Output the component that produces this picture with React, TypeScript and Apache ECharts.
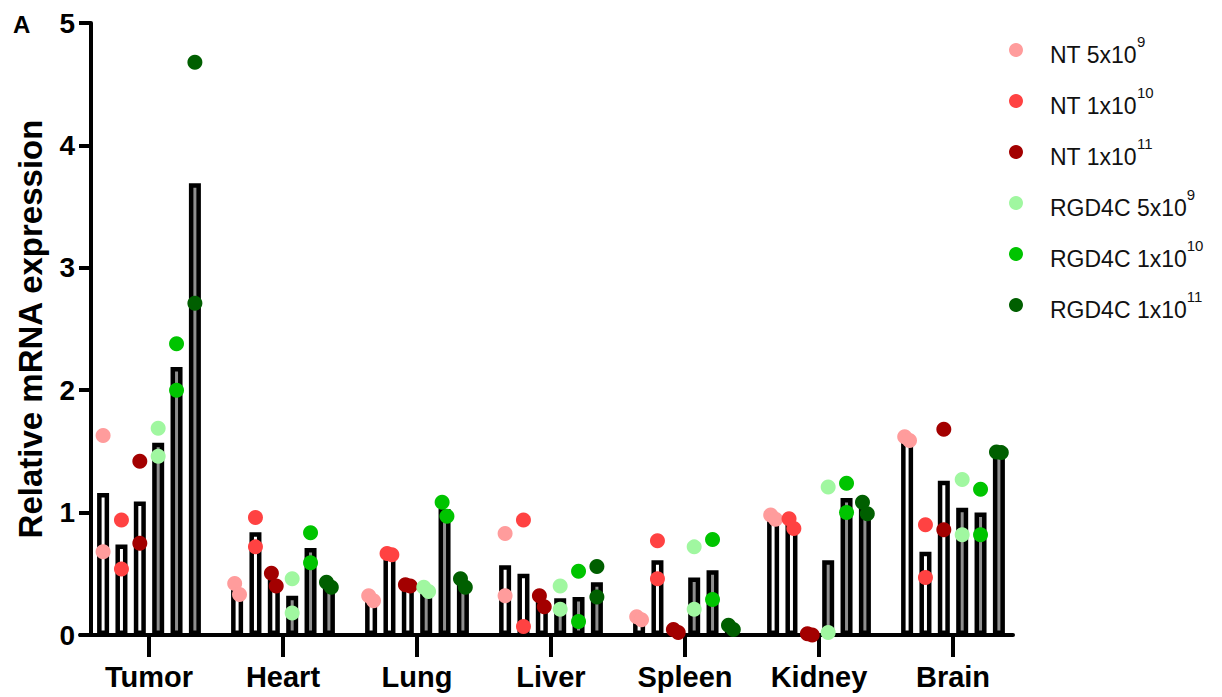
import { useEffect, useRef } from 'react';
import * as echarts from 'echarts';

const FONT = "'Liberation Sans', Arial, Helvetica, sans-serif";

const categories = ['Tumor', 'Heart', 'Lung', 'Liver', 'Spleen', 'Kidney', 'Brain'];
const yTicks = [0, 1, 2, 3, 4, 5];

const seriesNames = ['NT 5x10^9', 'NT 1x10^10', 'NT 1x10^11', 'RGD4C 5x10^9', 'RGD4C 1x10^10', 'RGD4C 1x10^11'];
const legendBase = ['NT 5x10', 'NT 1x10', 'NT 1x10', 'RGD4C 5x10', 'RGD4C 1x10', 'RGD4C 1x10'];
const legendExp = ['9', '10', '11', '9', '10', '11'];

// bar heights (mean) per series, per category
const barNT5e9 = [1.16, 0.37, 0.30, 0.57, 0.14, 0.96, 1.60];
const barNT1e10 = [0.74, 0.84, 0.65, 0.50, 0.61, 0.91, 0.68];
const barNT1e11 = [1.09, 0.45, 0.40, 0.27, 0.03, 0.005, 1.26];
const barRGD5e9 = [1.57, 0.32, 0.37, 0.30, 0.47, 0.61, 1.04];
const barRGD1e10 = [2.19, 0.71, 1.03, 0.31, 0.53, 1.12, 1.00];
const barRGD1e11 = [3.69, 0.41, 0.42, 0.43, 0.06, 1.04, 1.49];

// replicate points (upper / lower) per series, per category
const dotNT5e9A = [1.63, 0.42, 0.32, 0.83, 0.15, 0.98, 1.62];
const dotNT5e9B = [0.68, 0.33, 0.28, 0.32, 0.125, 0.945, 1.59];
const dotNT1e10A = [0.94, 0.96, 0.665, 0.94, 0.77, 0.95, 0.90];
const dotNT1e10B = [0.54, 0.72, 0.655, 0.07, 0.46, 0.87, 0.47];
const dotNT1e11A = [1.42, 0.505, 0.41, 0.32, 0.045, 0.01, 1.68];
const dotNT1e11B = [0.75, 0.40, 0.40, 0.23, 0.02, 0.0, 0.86];
const dotRGD5e9A = [1.69, 0.46, 0.39, 0.40, 0.72, 1.21, 1.27];
const dotRGD5e9B = [1.46, 0.18, 0.355, 0.21, 0.21, 0.02, 0.82];
const dotRGD1e10A = [2.38, 0.835, 1.085, 0.52, 0.78, 1.24, 1.19];
const dotRGD1e10B = [2.00, 0.59, 0.97, 0.11, 0.29, 1.00, 0.82];
const dotRGD1e11A = [4.68, 0.43, 0.46, 0.56, 0.08, 1.085, 1.495];
const dotRGD1e11B = [2.71, 0.39, 0.39, 0.31, 0.045, 0.99, 1.49];

const bars = [barNT5e9, barNT1e10, barNT1e11, barRGD5e9, barRGD1e10, barRGD1e11];
const dotsA = [dotNT5e9A, dotNT1e10A, dotNT1e11A, dotRGD5e9A, dotRGD1e10A, dotRGD1e11A];
const dotsB = [dotNT5e9B, dotNT1e10B, dotNT1e11B, dotRGD5e9B, dotRGD1e10B, dotRGD1e11B];

const dotColors = ['#FF9C9C', '#FF4242', '#A30000', '#A0F7A0', '#00C400', '#005F00'];
const barFills = ['#ffffff', '#ffffff', '#ffffff', '#8f8f8f', '#8f8f8f', '#8f8f8f'];

// layout constants (px)
const BAR_W = 12;
const BAR_GAP = 0.53; // fraction of bar width
const BAND_PX = 134;
const SLOT = (BAR_W * (1 + BAR_GAP)) / BAND_PX; // per-series offset in category units
const JITTER = 0.018;

export default function App() {
  const ref = useRef<HTMLDivElement>(null);

  useEffect(() => {
    const chart = echarts.init(ref.current!, null, { renderer: 'svg' });

    const barSeries = bars.map((vals, s) => ({
      type: 'bar',
      name: 'bar-' + seriesNames[s],
      xAxisIndex: 0,
      yAxisIndex: 0,
      data: vals,
      barWidth: BAR_W,
      barGap: Math.round(BAR_GAP * 100) + '%',
      z: 2,
      itemStyle: { color: barFills[s], borderColor: '#000', borderWidth: 4.5 },
      emphasis: { disabled: true },
    }));

    const scatterSeries = dotsA.map((aVals, s) => {
      const bVals = dotsB[s];
      const data: number[][] = [];
      categories.forEach((_, c) => {
        const a = aVals[c];
        const b = bVals[c];
        const base = c + (s - 2.5) * SLOT;
        const close = Math.abs(a - b) < 0.15;
        const hi = Math.max(a, b);
        const lo = Math.min(a, b);
        data.push([base - (close ? JITTER : 0), hi]);
        data.push([base + (close ? JITTER : 0), lo]);
      });
      return {
        type: 'scatter',
        name: seriesNames[s],
        xAxisIndex: 1,
        yAxisIndex: 0,
        data,
        symbol: 'circle',
        symbolSize: 15,
        z: 3,
        itemStyle: { color: dotColors[s], opacity: 1 },
        emphasis: { disabled: true },
      };
    });

    const option = {
      animation: false,
      backgroundColor: '#ffffff',
      textStyle: { fontFamily: FONT },
      grid: [
        { left: 82, right: 202, top: 23, bottom: 62, containLabel: false },
        { left: 80, right: 209, top: 23, bottom: 62, containLabel: false },
      ],
      legend: {
        orient: 'vertical',
        left: 1009,
        top: 34,
        padding: 0,
        itemWidth: 14,
        itemHeight: 14,
        itemGap: 19,
        icon: 'circle',
        selectedMode: false,
        data: seriesNames.map((n, i) => ({ name: n, itemStyle: { color: dotColors[i] } })),
        formatter: (name: string) => {
          const i = seriesNames.indexOf(name);
          return `{a|${legendBase[i]}}{s|${legendExp[i]}}`;
        },
        textStyle: {
          rich: {
            a: { fontSize: 23, fontFamily: FONT, color: '#111', lineHeight: 32, verticalAlign: 'bottom', padding: [0, 0, 0, 22] },
            s: { fontSize: 15, fontFamily: FONT, color: '#111', lineHeight: 22, verticalAlign: 'top' },
          },
        },
      },
      xAxis: [
        {
          gridIndex: 0,
          type: 'category',
          data: categories,
          boundaryGap: true,
          axisLine: { show: false },
          axisTick: { show: true, alignWithLabel: true, length: 22, lineStyle: { color: '#000', width: 4 } },
          axisLabel: { fontSize: 29, fontWeight: 'bold', color: '#000', margin: 27, fontFamily: FONT },
          splitLine: { show: false },
        },
        { gridIndex: 0, type: 'value', min: -0.5, max: 6.5, show: false },
        {
          gridIndex: 1,
          type: 'value',
          min: 0,
          max: 1,
          axisLine: { show: true, onZero: false, lineStyle: { color: '#000', width: 4 } },
          axisTick: { show: false },
          axisLabel: { show: false },
          splitLine: { show: false },
        },
      ],
      yAxis: [
        {
          gridIndex: 0,
          type: 'value',
          min: yTicks[0],
          max: yTicks[yTicks.length - 1],
          interval: 1,
          offset: -9,
          name: 'Relative mRNA expression',
          nameLocation: 'middle',
          nameGap: 44,
          nameTextStyle: { fontSize: 33, fontWeight: 'bold', color: '#000', fontFamily: FONT },
          axisLine: { show: true, onZero: false, lineStyle: { color: '#000', width: 4 } },
          axisTick: { show: true, length: 12, lineStyle: { color: '#000', width: 4 } },
          axisLabel: { fontSize: 28, fontWeight: 'bold', color: '#000', margin: 16, fontFamily: FONT },
          splitLine: { show: false },
        },
        { gridIndex: 1, type: 'value', min: 0, max: 1, show: false },
      ],
      graphic: [
        {
          type: 'text',
          left: 13,
          top: 12,
          style: { text: 'A', font: `bold 24px ${FONT}`, fill: '#000' },
        },
      ],
      series: [...barSeries, ...scatterSeries],
    };

    chart.setOption(option as any);
    return () => chart.dispose();
  }, []);

  return (
    <div
      ref={ref}
      style={{ position: 'fixed', left: 0, top: 0, width: 1222, height: 697, background: '#fff' }}
    />
  );
}
